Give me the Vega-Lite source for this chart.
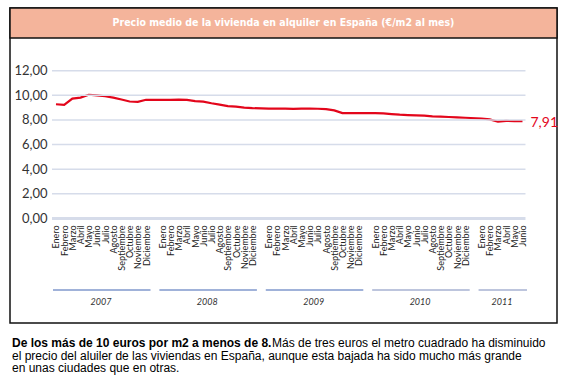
{
  "$schema": "https://vega.github.io/schema/vega-lite/v6.json",
  "width": 547,
  "height": 315,
  "autosize": "none",
  "padding": {"left": 10, "top": 8, "right": 8, "bottom": 55},
  "background": "white",
  "config": {
    "view": {"stroke": "#111111", "strokeWidth": 1.5},
    "scale": {"pointPadding": 0.418},
    "locale": {"number": {"decimal": ",", "thousands": ".", "grouping": [3], "currency": ["", " €"]}}
  },
  "title": {
    "text": "De los más de 10 euros por m2 a menos de 8.",
    "subtitle": [
      "\u200b\u00a0\u00a0\u00a0\u00a0\u00a0\u00a0\u00a0\u00a0\u00a0\u00a0\u00a0\u00a0\u00a0\u00a0\u00a0\u00a0\u00a0\u00a0\u00a0\u00a0\u00a0\u00a0\u00a0\u00a0\u00a0\u00a0\u00a0\u00a0\u00a0\u00a0\u00a0\u00a0\u00a0\u00a0\u00a0\u00a0\u00a0\u00a0\u00a0\u00a0\u00a0\u00a0\u00a0\u00a0\u00a0\u00a0\u00a0\u00a0\u00a0\u00a0\u00a0\u00a0\u00a0\u00a0\u00a0\u00a0\u00a0\u00a0\u00a0\u00a0\u00a0\u00a0\u00a0\u00a0\u00a0\u00a0\u00a0\u00a0\u00a0\u00a0\u00a0\u00a0\u00a0\u00a0\u00a0\u00a0\u00a0\u00a0Más de tres euros el metro cuadrado ha disminuido",
      "el precio del aluiler de las viviendas en España, aunque esta bajada ha sido mucho más grande",
      "en unas ciudades que en otras."
    ],
    "orient": "bottom",
    "anchor": "start",
    "frame": "group",
    "offset": 15,
    "dx": 2,
    "font": "Liberation Sans",
    "fontSize": 12,
    "fontWeight": "bold",
    "color": "#000000",
    "subtitleFont": "Liberation Sans",
    "subtitleFontSize": 12,
    "subtitleFontWeight": "normal",
    "subtitleColor": "#000000",
    "subtitleLineHeight": 12.5,
    "subtitlePadding": -12
  },
  "datasets": {
    "precio": [
      {"mes": "Enero 2007", "v": 9.28}, {"mes": "Febrero 2007", "v": 9.22}, {"mes": "Marzo 2007", "v": 9.74},
      {"mes": "Abril 2007", "v": 9.82}, {"mes": "Mayo 2007", "v": 10.05}, {"mes": "Junio 2007", "v": 10.0},
      {"mes": "Julio 2007", "v": 9.93}, {"mes": "Agosto 2007", "v": 9.82}, {"mes": "Septiembre 2007", "v": 9.66},
      {"mes": "Octubre 2007", "v": 9.5}, {"mes": "Noviembre 2007", "v": 9.47}, {"mes": "Diciembre 2007", "v": 9.64},
      {"mes": "Enero 2008", "v": 9.63}, {"mes": "Febrero 2008", "v": 9.63}, {"mes": "Marzo 2008", "v": 9.65},
      {"mes": "Abril 2008", "v": 9.63}, {"mes": "Mayo 2008", "v": 9.53}, {"mes": "Junio 2008", "v": 9.49},
      {"mes": "Julio 2008", "v": 9.36}, {"mes": "Agosto 2008", "v": 9.25}, {"mes": "Septiembre 2008", "v": 9.13},
      {"mes": "Octubre 2008", "v": 9.09}, {"mes": "Noviembre 2008", "v": 9.01}, {"mes": "Diciembre 2008", "v": 8.96},
      {"mes": "Enero 2009", "v": 8.93}, {"mes": "Febrero 2009", "v": 8.93}, {"mes": "Marzo 2009", "v": 8.92},
      {"mes": "Abril 2009", "v": 8.91}, {"mes": "Mayo 2009", "v": 8.92}, {"mes": "Junio 2009", "v": 8.93},
      {"mes": "Julio 2009", "v": 8.91}, {"mes": "Agosto 2009", "v": 8.88}, {"mes": "Septiembre 2009", "v": 8.78},
      {"mes": "Octubre 2009", "v": 8.56}, {"mes": "Noviembre 2009", "v": 8.56}, {"mes": "Diciembre 2009", "v": 8.55},
      {"mes": "Enero 2010", "v": 8.55}, {"mes": "Febrero 2010", "v": 8.53}, {"mes": "Marzo 2010", "v": 8.48},
      {"mes": "Abril 2010", "v": 8.43}, {"mes": "Mayo 2010", "v": 8.4}, {"mes": "Junio 2010", "v": 8.37},
      {"mes": "Julio 2010", "v": 8.35}, {"mes": "Agosto 2010", "v": 8.3}, {"mes": "Septiembre 2010", "v": 8.27},
      {"mes": "Octubre 2010", "v": 8.24}, {"mes": "Noviembre 2010", "v": 8.21}, {"mes": "Diciembre 2010", "v": 8.18},
      {"mes": "Enero 2011", "v": 8.12}, {"mes": "Febrero 2011", "v": 8.05}, {"mes": "Marzo 2011", "v": 7.86},
      {"mes": "Abril 2011", "v": 7.92}, {"mes": "Mayo 2011", "v": 7.91}, {"mes": "Junio 2011", "v": 7.91}
    ],
    "grid": [{"v": 0}, {"v": 2}, {"v": 4}, {"v": 6}, {"v": 8}, {"v": 10}, {"v": 12}],
    "years": [
      {"year": "2007", "start": "Enero 2007", "end": "Diciembre 2007", "mid": "Junio 2007"},
      {"year": "2008", "start": "Enero 2008", "end": "Diciembre 2008", "mid": "Junio 2008"},
      {"year": "2009", "start": "Enero 2009", "end": "Diciembre 2009", "mid": "Junio 2009"},
      {"year": "2010", "start": "Enero 2010", "end": "Diciembre 2010", "mid": "Junio 2010"},
      {"year": "2011", "start": "Enero 2011", "end": "Junio 2011", "mid": "Marzo 2011"}
    ],
    "header": [{"t": "Precio medio de la vivienda en alquiler en España (€/m2 al mes)"}]
  },
  "layer": [
    {
      "data": {"name": "precio"},
      "mark": {"type": "line", "color": "#E3061B", "strokeWidth": 2.2},
      "encoding": {
        "x": {
          "field": "mes", "type": "ordinal", "sort": null,
          "scale": {
            "type": "point",
            "paddingOuter": 0.418,
            "align": 0.74,
            "domain": [
              "l1", "l2", "l3", "l4", "l5",
              "Enero 2007", "Febrero 2007", "Marzo 2007", "Abril 2007", "Mayo 2007", "Junio 2007", "Julio 2007", "Agosto 2007", "Septiembre 2007", "Octubre 2007", "Noviembre 2007", "Diciembre 2007", "s1",
              "Enero 2008", "Febrero 2008", "Marzo 2008", "Abril 2008", "Mayo 2008", "Junio 2008", "Julio 2008", "Agosto 2008", "Septiembre 2008", "Octubre 2008", "Noviembre 2008", "Diciembre 2008", "s2",
              "Enero 2009", "Febrero 2009", "Marzo 2009", "Abril 2009", "Mayo 2009", "Junio 2009", "Julio 2009", "Agosto 2009", "Septiembre 2009", "Octubre 2009", "Noviembre 2009", "Diciembre 2009", "s3",
              "Enero 2010", "Febrero 2010", "Marzo 2010", "Abril 2010", "Mayo 2010", "Junio 2010", "Julio 2010", "Agosto 2010", "Septiembre 2010", "Octubre 2010", "Noviembre 2010", "Diciembre 2010", "s4",
              "Enero 2011", "Febrero 2011", "Marzo 2011", "Abril 2011", "Mayo 2011", "Junio 2011",
              "r1", "r2", "r3", "r4"
            ]
          },
          "axis": {
            "orient": "bottom", "offset": -100, "labelAngle": -90, "labelAlign": "right", "labelBaseline": "middle",
            "labelPadding": 2, "ticks": false, "domain": false, "grid": false, "title": null,
            "labelFont": "Lato", "labelFontSize": 9, "labelColor": "#222222", "labelOverlap": false,
            "labelFlush": false, "labelBound": false,
            "labelExpr": "indexof(datum.value, ' ') > 0 ? split(datum.value, ' ')[0] : ''"
          }
        },
        "y": {
          "field": "v", "type": "quantitative",
          "scale": {"domain": [-8.5, 17.1], "nice": false, "zero": false},
          "axis": {
            "orient": "left", "offset": -40, "values": [0, 2, 4, 6, 8, 10, 12], "format": ".2f",
            "domain": false, "ticks": false, "grid": false, "labelPadding": 3, "title": null,
            "labelFont": "Lato", "labelFontSize": 13, "labelColor": "#333333"
          }
        }
      }
    },
    {
      "data": {"name": "header"},
      "mark": {"type": "rect", "fill": "#F4B49B", "stroke": "#111111", "strokeWidth": 1.5},
      "encoding": {
        "y": {"datum": 17.1, "type": "quantitative"},
        "y2": {"datum": 14.66}
      }
    },
    {
      "data": {"name": "header"},
      "mark": {"type": "text", "color": "white", "font": "DejaVu Sans Condensed, Roboto, Liberation Sans", "fontSize": 10.5, "fontWeight": "bold", "align": "center", "baseline": "middle"},
      "encoding": {
        "y": {"datum": 15.88, "type": "quantitative"},
        "text": {"field": "t"}
      }
    },
    {
      "data": {"name": "grid"},
      "mark": {"type": "rule", "color": "#D6DCEA", "xOffset": -4, "x2Offset": 3},
      "encoding": {
        "x": {"datum": "Enero 2007", "type": "ordinal", "scale": {"type": "point", "paddingOuter": 0.418, "align": 0.74}},
        "x2": {"datum": "Junio 2011"},
        "y": {"field": "v", "type": "quantitative"},
        "strokeWidth": {"condition": {"test": "datum.v === 0", "value": 3}, "value": 1.5}
      }
    },
    {
      "data": {"name": "years"},
      "mark": {"type": "rule", "strokeWidth": 1.5, "xOffset": -3, "x2Offset": 4.5},
      "encoding": {
        "x": {"field": "start", "type": "ordinal", "scale": {"type": "point", "paddingOuter": 0.418, "align": 0.74}},
        "x2": {"field": "end"},
        "y": {"datum": -5.82, "type": "quantitative"},
        "color": {"field": "year", "type": "nominal", "legend": null,
          "scale": {"domain": ["2007", "2008", "2009", "2010", "2011"], "range": ["#8099CC", "#8099CC", "#8099CC", "#A7B2D2", "#A7B2D2"]}}
      }
    },
    {
      "data": {"name": "years"},
      "mark": {"type": "text", "font": "Lato", "fontStyle": "italic", "fontSize": 9, "color": "#333333", "dx": 4, "align": "center", "baseline": "middle"},
      "encoding": {
        "x": {"field": "mid", "type": "ordinal", "scale": {"type": "point", "paddingOuter": 0.418, "align": 0.74}},
        "y": {"datum": -6.79, "type": "quantitative"},
        "text": {"field": "year"}
      }
    },
    {
      "data": {"name": "precio"},
      "transform": [{"filter": "datum.mes === 'Junio 2011'"}],
      "mark": {"type": "text", "color": "#E3061B", "font": "Lato", "fontSize": 14, "align": "left", "baseline": "middle", "dx": 8, "dy": 2},
      "encoding": {
        "x": {"field": "mes", "type": "ordinal", "scale": {"type": "point", "paddingOuter": 0.418, "align": 0.74}},
        "y": {"field": "v", "type": "quantitative"},
        "text": {"field": "v", "format": ".2f"}
      }
    }
  ]
}
